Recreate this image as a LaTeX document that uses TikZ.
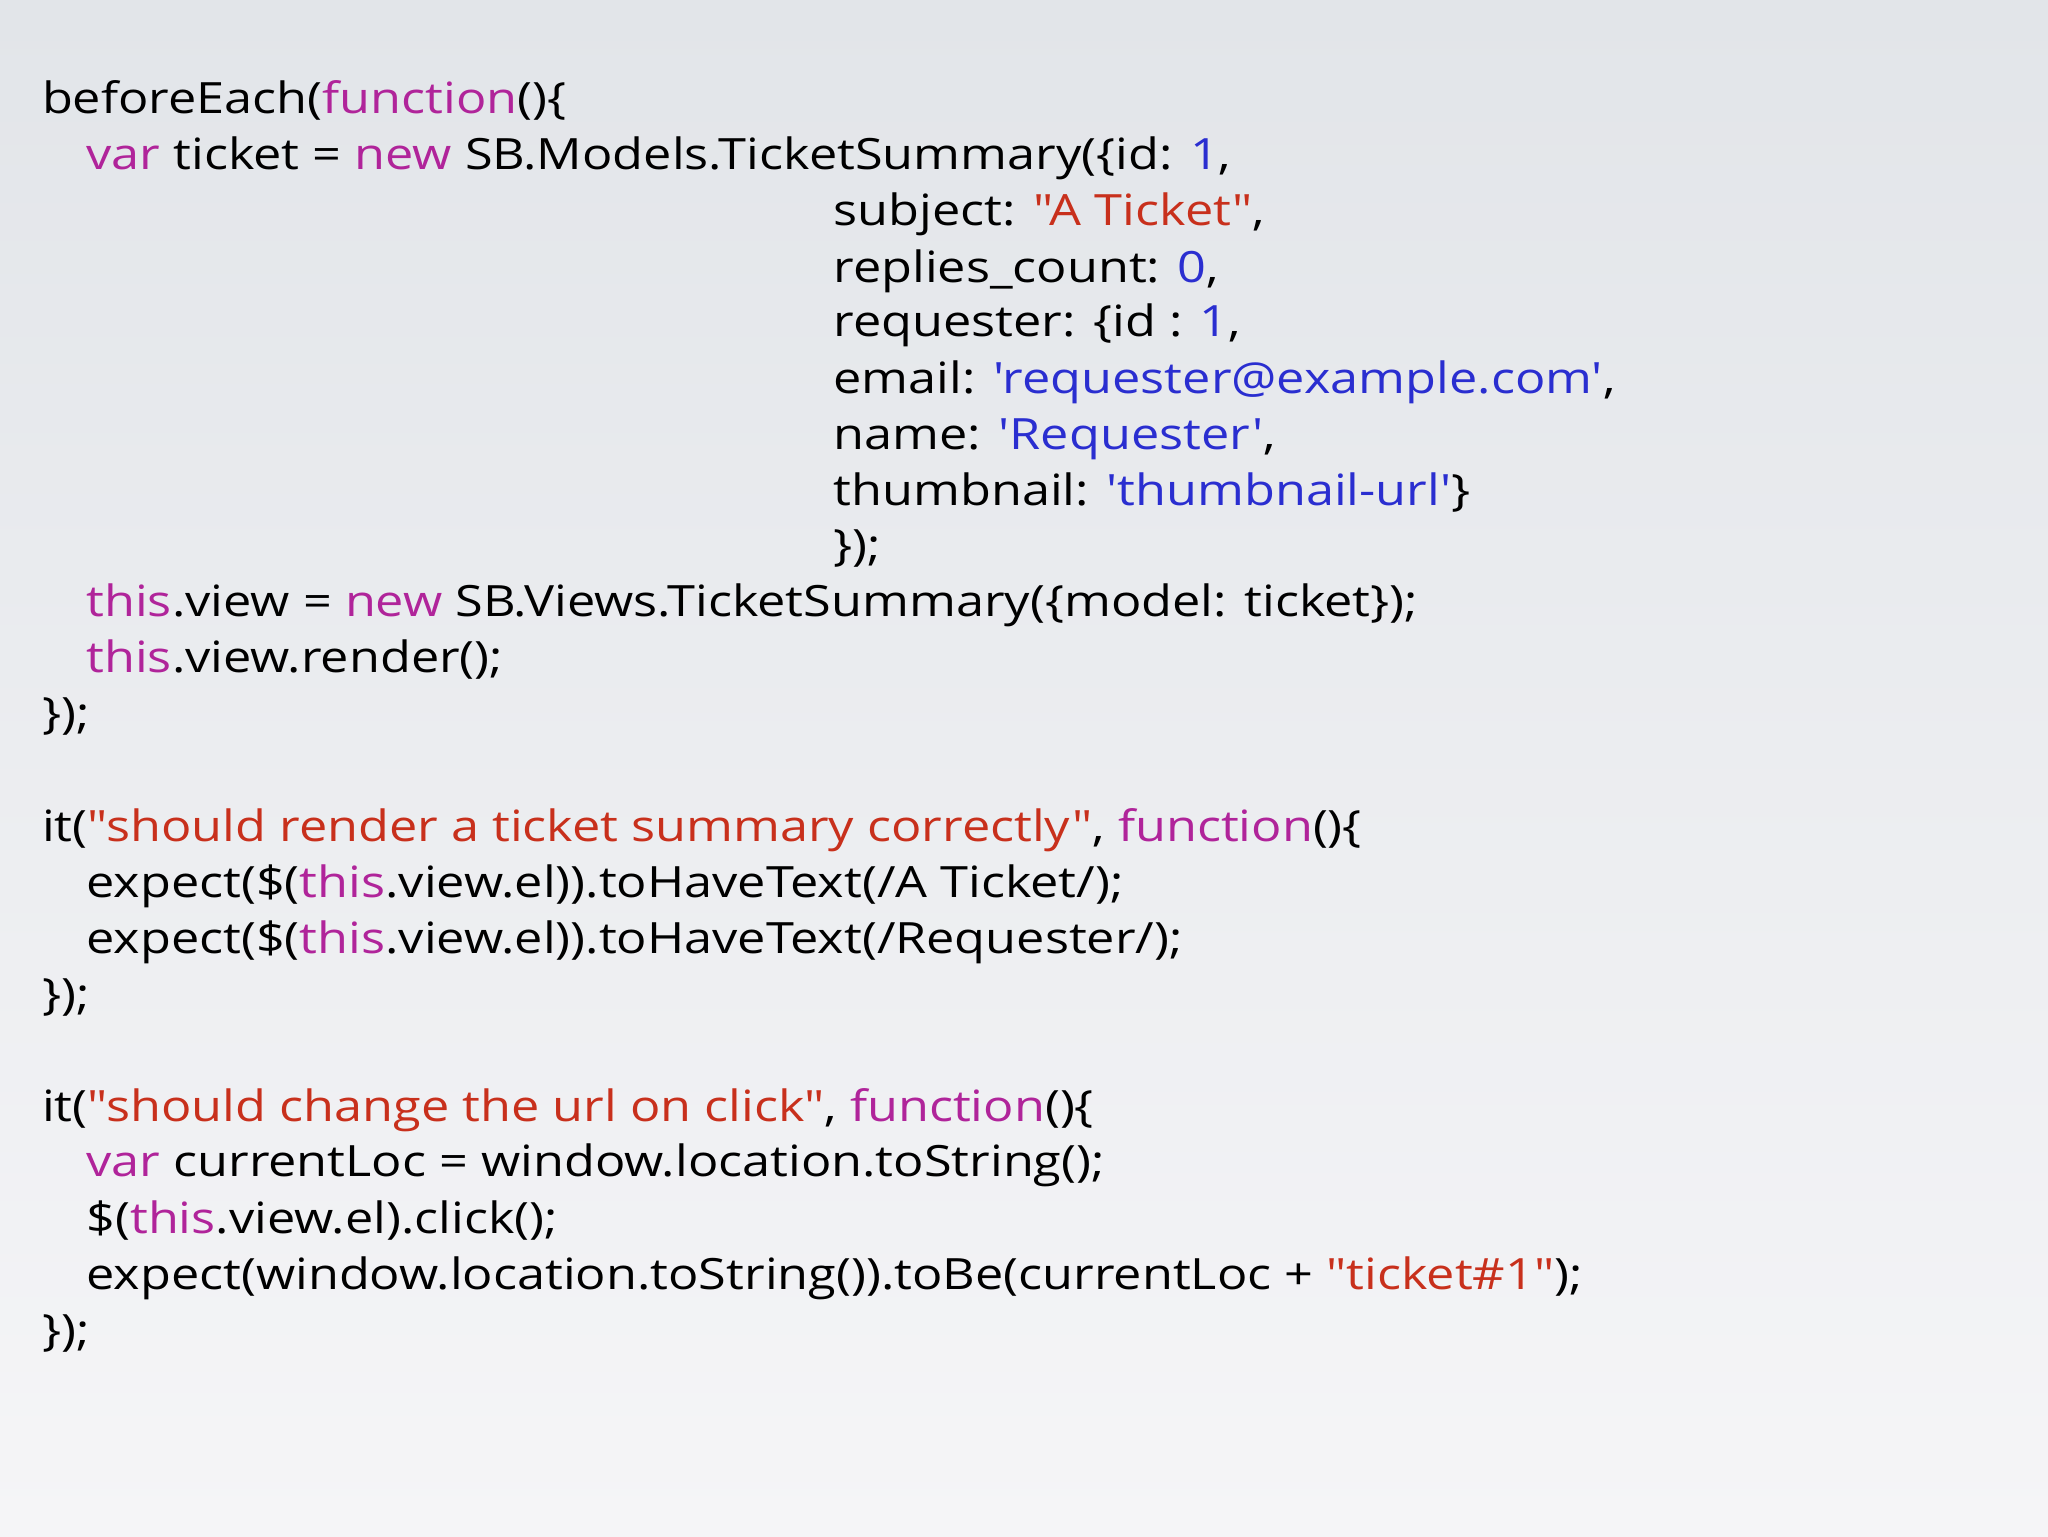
\documentclass[tikz,border=0pt]{standalone}
\usepackage{fontspec}
\newfontfamily\code{Open Sans}[FakeStretch=1.17]
\usetikzlibrary{shadings}
\definecolor{kw}{HTML}{B0249A}
\definecolor{st}{HTML}{C8301C}
\definecolor{nm}{HTML}{2A2ED0}
\newcommand{\K}[1]{\textcolor{kw}{#1}}
\newcommand{\Sx}[1]{\textcolor{st}{#1}}
\newcommand{\N}[1]{\textcolor{nm}{#1}}
\begin{document}
\begin{tikzpicture}[x=1pt,y=-1pt,ln/.style={anchor=base west,inner sep=0pt,font=\code\fontsize{33}{40}\selectfont}]
\shade[top color={rgb,255:red,226;green,229;blue,233},bottom color={rgb,255:red,245;green,245;blue,247}] (0,0) rectangle (1568,1176);
\useasboundingbox (0,0) rectangle (1568,1176);
\def\a{32}\def\b{66}\def\c{638}
\node[ln] (l1) at (\a,87) {beforeEach(\K{function}()\{};
\node[ln] (l2) at (\b,130) {\K{var} ticket = \K{new} SB.Models.TicketSummary(\{id: \N{1},};
\node[ln] (l3) at (\c,173) {subject: \Sx{"A Ticket"},};
\node[ln] (l4) at (\c,216) {replies\_count: \N{0},};
\node[ln] (l5) at (\c,258) {requester: \{id : \N{1},};
\node[ln] (l6) at (\c,301) {email: \N{'requester@example.com'},};
\node[ln] (l7) at (\c,344) {name: \N{'Requester'},};
\node[ln] (l8) at (\c,387) {thumbnail: \N{'thumbnail-url'}\}};
\node[ln] (l9) at (\c,429) {\});};
\node[ln] (l10) at (\b,472) {\K{this}.view = \K{new} SB.Views.TicketSummary(\{model: ticket\});};
\node[ln] (l11) at (\b,515) {\K{this}.view.render();};
\node[ln] (l12) at (\a,558) {\});};
\node[ln] (l13) at (\a,644) {it(\Sx{"should render a ticket summary correctly"}, \K{function}()\{};
\node[ln] (l14) at (\b,687) {expect(\$(\K{this}.view.el)).toHaveText(/A Ticket/);};
\node[ln] (l15) at (\b,730) {expect(\$(\K{this}.view.el)).toHaveText(/Requester/);};
\node[ln] (l16) at (\a,773) {\});};
\node[ln] (l17) at (\a,859) {it(\Sx{"should change the url on click"}, \K{function}()\{};
\node[ln] (l18) at (\b,901) {\K{var} currentLoc = window.location.toString();};
\node[ln] (l19) at (\b,944) {\$(\K{this}.view.el).click();};
\node[ln] (l20) at (\b,987) {expect(window.location.toString()).toBe(currentLoc + \Sx{"ticket\#1"});};
\node[ln] (l21) at (\a,1030) {\});};
\end{tikzpicture}
\end{document}
